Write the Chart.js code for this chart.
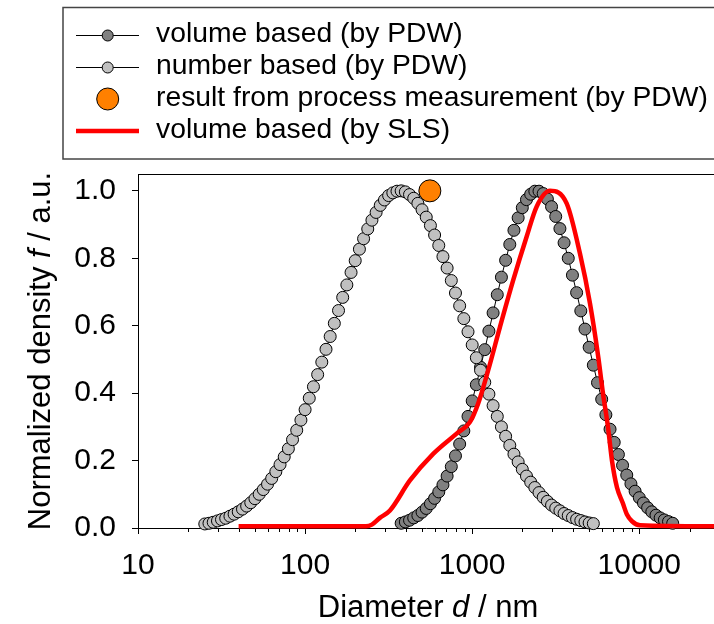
<!DOCTYPE html>
<html>
<head>
<meta charset="utf-8">
<style>
html,body{margin:0;padding:0;background:#fff;overflow:hidden}
#wrap{width:714px;height:624px;position:relative}
</style>
<script src="https://cdn.jsdelivr.net/npm/chart.js@4.4.1/dist/chart.umd.min.js"></script>
</head>
<body>
<div id="wrap"><canvas id="c" width="714" height="624"></canvas></div>
<script>
// ---------------- data ----------------
const NUMBER_D = [25.1, 26.6, 28.2, 29.9, 31.6, 33.5, 35.5, 37.6, 39.8, 42.2,
  44.7, 47.3, 50.1, 53.1, 56.2, 59.6, 63.1, 66.8, 70.8, 75.0,
  79.4, 84.1, 89.1, 94.4,
  100, 105.9, 112.2, 118.9, 125.9, 133.4, 141.3, 149.6, 158.5, 167.9,
  177.8, 188.4, 199.5, 211.4, 223.9, 237.1, 251.2, 266.1, 281.8, 298.5,
  316.2, 335.0, 354.8, 375.8, 398.1, 421.7, 446.7, 473.2, 501.2, 530.9,
  562.3, 595.7, 631.0, 668.3, 707.9, 749.9, 794.3, 841.4, 891.3, 944.1,
  1000, 1059, 1122, 1189, 1259, 1334, 1413, 1496, 1585, 1679,
  1778, 1884, 1995, 2113, 2239, 2371, 2512, 2661, 2818, 2985,
  3162, 3350, 3548, 3758, 3981, 4217, 4467, 4732, 5012, 5309];
const NUMBER_F = [0.012, 0.014, 0.017, 0.021, 0.025, 0.029, 0.035, 0.041, 0.048, 0.056,
  0.065, 0.075, 0.087, 0.100, 0.114, 0.130, 0.147, 0.167, 0.188, 0.211,
  0.235, 0.262, 0.290, 0.320, 0.351, 0.385, 0.419, 0.455, 0.492, 0.530,
  0.568, 0.607, 0.645, 0.684, 0.721, 0.758, 0.793, 0.827, 0.858, 0.887,
  0.913, 0.936, 0.957, 0.973, 0.986, 0.994, 0.999, 1.000, 0.997, 0.989,
  0.978, 0.963, 0.944, 0.922, 0.897, 0.869, 0.838, 0.805, 0.771, 0.734,
  0.697, 0.659, 0.621, 0.582, 0.543, 0.505, 0.468, 0.432, 0.397, 0.363,
  0.331, 0.300, 0.272, 0.245, 0.219, 0.196, 0.174, 0.154, 0.136, 0.120,
  0.105, 0.091, 0.079, 0.068, 0.059, 0.051, 0.043, 0.037, 0.031, 0.026,
  0.022, 0.018, 0.015, 0.013];

const VOLUME_D = [375.8, 398.1, 421.7, 446.7, 473.2, 501.2, 530.9, 562.3, 595.7, 631.0,
  668.3, 707.9, 749.9, 794.3, 841.4, 891.3, 944.1,
  1000, 1059, 1122, 1189, 1259, 1334, 1413, 1496, 1585, 1679,
  1778, 1884, 1995, 2113, 2239, 2371, 2512, 2661, 2818, 2985,
  3162, 3350, 3548, 3758, 3981, 4217, 4467, 4732, 5012, 5309,
  5623, 5957, 6310, 6683, 7079, 7499, 7943, 8414, 8913, 9441,
  10000, 10593, 11220, 11885, 12589, 13335, 14125, 14962, 15849];
const VOLUME_F = [0.014, 0.018, 0.023, 0.030, 0.037, 0.047, 0.058, 0.072, 0.088, 0.107,
  0.128, 0.154, 0.182, 0.214, 0.249, 0.288, 0.331, 0.377, 0.425, 0.477,
  0.529, 0.584, 0.638, 0.692, 0.744, 0.794, 0.841, 0.883, 0.920, 0.950,
  0.974, 0.990, 0.999, 0.999, 0.992, 0.976, 0.953, 0.924, 0.888, 0.846,
  0.800, 0.750, 0.698, 0.644, 0.590, 0.536, 0.483, 0.431, 0.382, 0.336,
  0.293, 0.254, 0.218, 0.186, 0.157, 0.131, 0.109, 0.090, 0.074, 0.060,
  0.048, 0.038, 0.030, 0.024, 0.019, 0.014];

const PROCESS_D = [558];
const PROCESS_F = [1.0];

const SLS_D = [40, 231, 251, 280, 322, 424, 584, 807, 969, 1086, 1247, 1466, 1760, 2117, 2430,
  2920, 3676, 4415, 5069, 5683, 6061, 6495, 6864, 7356, 7955, 8438, 9042, 10100, 28000];
const SLS_F = [0.005, 0.005, 0.010, 0.030, 0.052, 0.141, 0.220, 0.280, 0.314, 0.369, 0.468, 0.596, 0.735, 0.864, 0.953,
  1.000, 0.963, 0.814, 0.666, 0.507, 0.400, 0.300, 0.200, 0.120, 0.075, 0.040, 0.020, 0.008, 0.005];

const SERIES_LABELS = ['volume based (by PDW)', 'number based (by PDW)',
  'result from process measurement (by PDW)', 'volume based (by SLS)'];
const X_MAJOR_TICKS = [10, 100, 1000, 10000];
const X_MINOR_TICKS = [20, 30, 40, 50, 60, 70, 80, 90, 200, 300, 400, 500, 600, 700, 800, 900,
  2000, 3000, 4000, 5000, 6000, 7000, 8000, 9000, 20000];
const Y_TICKS = [0, 0.2, 0.4, 0.6, 0.8, 1.0];
const X_TITLE = [['Diameter ', false], ['d', true], [' / nm', false]];
const Y_TITLE = [['Normalized density ', false], ['f', true], [' / a.u.', false]];

// ---------------- chart ----------------
const FAMILY = '"Liberation Sans", Arial, Helvetica, sans-serif';
Chart.defaults.font.family = FAMILY;
Chart.defaults.color = '#000';

const pts = (xs, ys) => xs.map((x, i) => ({ x: x, y: ys[i] }));

const extras = {
  id: 'extras',
  beforeDatasetsDraw(chart) {
    const ctx = chart.ctx, xs = chart.scales.x, a = chart.chartArea;
    ctx.save();
    ctx.strokeStyle = '#000';
    ctx.lineWidth = 1;
    X_MINOR_TICKS.forEach(v => {
      const px = Math.round(xs.getPixelForValue(v)) + 0.5;
      if (px > a.right) return;
      ctx.beginPath();
      ctx.moveTo(px, Math.round(a.bottom));
      ctx.lineTo(px, Math.round(a.bottom) + 4);
      ctx.stroke();
    });
    // top frame line
    const ty = Math.round(a.top) + 0.5;
    ctx.beginPath();
    ctx.moveTo(a.left, ty);
    ctx.lineTo(a.right, ty);
    ctx.stroke();
    ctx.restore();
  },
  afterDraw(chart) {
    const ctx = chart.ctx, a = chart.chartArea, ds = chart.data.datasets;
    ctx.save();
    // legend box
    ctx.strokeStyle = '#444';
    ctx.lineWidth = 1.5;
    ctx.strokeRect(63, 7.5, 700, 151.5);
    const rows = [35, 67, 99, 131];
    rows.forEach((y, i) => {
      const d = ds[i];
      if (i < 2) {
        ctx.strokeStyle = '#000'; ctx.lineWidth = 1;
        ctx.beginPath(); ctx.moveTo(76, y + 0.5); ctx.lineTo(139, y + 0.5); ctx.stroke();
        ctx.beginPath(); ctx.arc(107.7, y + 0.5, 5.5, 0, Math.PI * 2);
        ctx.fillStyle = d.backgroundColor; ctx.fill(); ctx.stroke();
      } else if (i === 2) {
        ctx.strokeStyle = '#000'; ctx.lineWidth = 1;
        ctx.beginPath(); ctx.arc(107.7, y, 11, 0, Math.PI * 2);
        ctx.fillStyle = d.backgroundColor; ctx.fill(); ctx.stroke();
      } else {
        ctx.strokeStyle = d.borderColor; ctx.lineWidth = 4.5;
        ctx.beginPath(); ctx.moveTo(76, y); ctx.lineTo(139, y); ctx.stroke();
      }
      ctx.fillStyle = '#000';
      ctx.font = '28.3px ' + FAMILY;
      ctx.textBaseline = 'middle';
      ctx.textAlign = 'left';
      ctx.fillText(d.label, 156, y - 1);
    });
    // axis titles (with italic symbol)
    const drawParts = (parts, size) => {
      let total = 0;
      const widths = parts.map(([t, it]) => {
        ctx.font = (it ? 'italic ' : '') + size + 'px ' + FAMILY;
        const w = ctx.measureText(t).width; total += w; return w;
      });
      let x = -total / 2;
      parts.forEach(([t, it], i) => {
        ctx.font = (it ? 'italic ' : '') + size + 'px ' + FAMILY;
        ctx.fillText(t, x, 0);
        x += widths[i];
      });
    };
    ctx.fillStyle = '#000';
    ctx.textAlign = 'left';
    ctx.textBaseline = 'alphabetic';
    ctx.save();
    ctx.translate(428, 617);
    drawParts(X_TITLE, 31);
    ctx.restore();
    ctx.save();
    ctx.translate(50, (a.top + a.bottom) / 2);
    ctx.rotate(-Math.PI / 2);
    drawParts(Y_TITLE, 31);
    ctx.restore();
    ctx.restore();
  }
};

new Chart(document.getElementById('c'), {
  type: 'scatter',
  data: {
    datasets: [
      { label: SERIES_LABELS[0], data: pts(VOLUME_D, VOLUME_F), showLine: true,
        borderColor: '#000', borderWidth: 1, backgroundColor: '#808080',
        pointRadius: 6, pointBorderWidth: 1, pointBorderColor: '#000', order: 3, clip: false },
      { label: SERIES_LABELS[1], data: pts(NUMBER_D, NUMBER_F), showLine: true,
        borderColor: '#000', borderWidth: 1, backgroundColor: '#c0c0c0',
        pointRadius: 6, pointBorderWidth: 1, pointBorderColor: '#000', order: 2, clip: false },
      { label: SERIES_LABELS[2], data: pts(PROCESS_D, PROCESS_F), showLine: false,
        borderColor: '#000', backgroundColor: '#ff8000',
        pointRadius: 11, pointBorderWidth: 1, pointBorderColor: '#000', order: 1, clip: false },
      { label: SERIES_LABELS[3], data: pts(SLS_D, SLS_F), showLine: true,
        borderColor: '#ff0000', borderWidth: 4.5, backgroundColor: '#ff0000',
        pointRadius: 0, cubicInterpolationMode: 'monotone', order: 0, clip: false }
    ]
  },
  options: {
    responsive: false,
    animation: false,
    devicePixelRatio: 1,
    layout: { autoPadding: false, padding: { top: 174, left: 0, right: 0, bottom: 0 } },
    plugins: { legend: { display: false }, tooltip: { enabled: false } },
    scales: {
      x: {
        type: 'logarithmic', position: 'bottom', min: 10, max: 28000,
        afterBuildTicks: s => { s.ticks = X_MAJOR_TICKS.map(v => ({ value: v })); },
        afterFit: s => { s.height = 96; s.paddingLeft = 0; s.paddingRight = 0; },
        ticks: { callback: v => String(v), font: { size: 30 }, color: '#000', padding: 14,
                 maxRotation: 0, autoSkip: false },
        grid: { drawOnChartArea: false, drawTicks: true, tickLength: 6, color: '#000' },
        border: { display: true, color: '#000', width: 1 }
      },
      y: {
        type: 'linear', position: 'left', min: 0, max: 1.05,
        afterBuildTicks: s => { s.ticks = Y_TICKS.map(v => ({ value: v })); },
        afterFit: s => { s.width = 138; s.paddingTop = 0; s.paddingBottom = 0; },
        ticks: { callback: v => Number(v).toFixed(1), font: { size: 30 }, color: '#000', padding: 16 },
        grid: { drawOnChartArea: false, drawTicks: true, tickLength: 6, color: '#000' },
        border: { display: true, color: '#000', width: 1 }
      }
    }
  },
  plugins: [extras]
});
</script>
</body>
</html>
